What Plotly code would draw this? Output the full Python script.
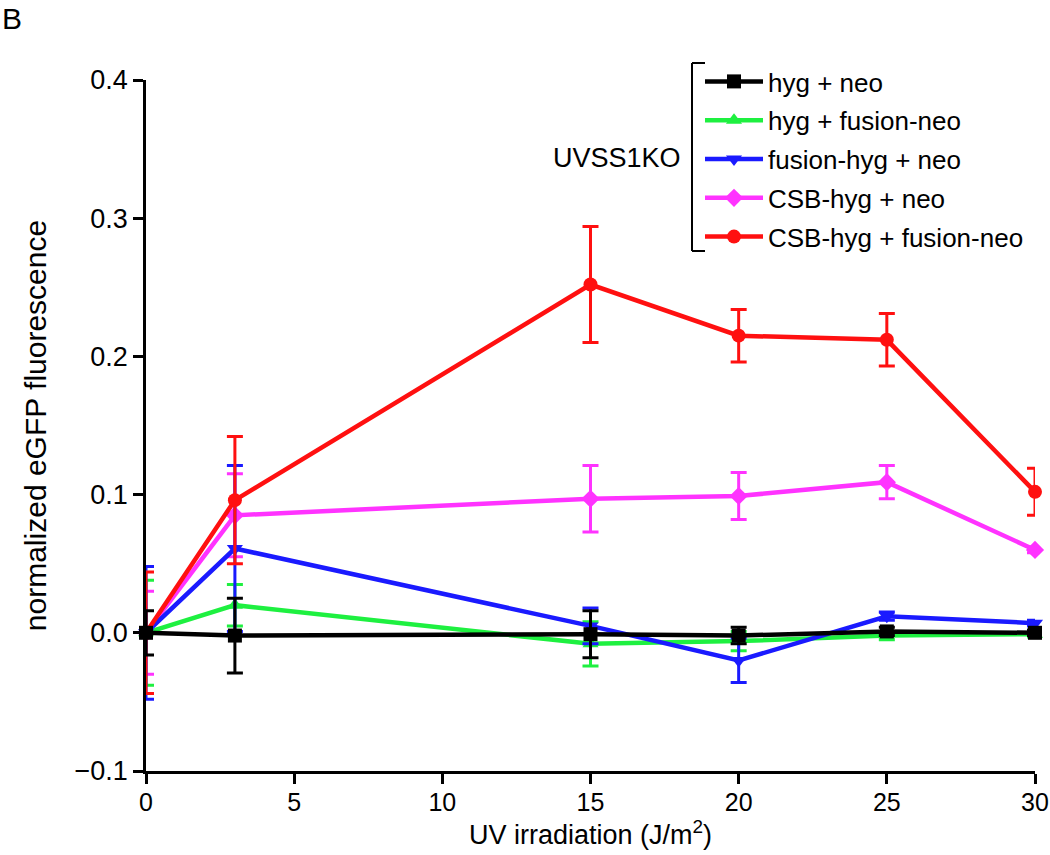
import plotly.graph_objects as go

# Data
uv_dose = [0, 3, 15, 20, 25, 30]

series_names = ["hyg + neo", "hyg + fusion-neo", "fusion-hyg + neo",
                "CSB-hyg + neo", "CSB-hyg + fusion-neo"]

hyg_neo = [0.0, -0.002, -0.001, -0.002, 0.001, 0.0]
hyg_neo_err = [0.016, 0.027, 0.017, 0.006, 0.003, 0.002]

hyg_fusion_neo = [0.0, 0.020, -0.008, -0.006, -0.002, -0.001]
hyg_fusion_neo_err = [0.038, 0.015, 0.016, 0.007, 0.003, 0.002]

fusion_hyg_neo = [0.0, 0.061, 0.005, -0.020, 0.012, 0.007]
fusion_hyg_neo_err = [0.048, 0.060, 0.013, 0.016, 0.003, 0.002]

csb_hyg_neo = [0.0, 0.085, 0.097, 0.099, 0.109, 0.060]
csb_hyg_neo_err = [0.030, 0.030, 0.024, 0.017, 0.012, 0.002]

csb_hyg_fusion_neo = [0.0, 0.096, 0.252, 0.215, 0.212, 0.102]
csb_hyg_fusion_neo_err = [0.044, 0.046, 0.042, 0.019, 0.019, 0.017]

y_ticks = [-0.1, 0.0, 0.1, 0.2, 0.3, 0.4]
x_ticks = [0, 5, 10, 15, 20, 25, 30]

colors = ["#000000", "#1ef040", "#1a1aff", "#ff33ff", "#ff1010"]
symbols = ["square", "triangle-up", "triangle-down", "diamond", "circle"]
values = [hyg_neo, hyg_fusion_neo, fusion_hyg_neo, csb_hyg_neo, csb_hyg_fusion_neo]
errors = [hyg_neo_err, hyg_fusion_neo_err, fusion_hyg_neo_err, csb_hyg_neo_err, csb_hyg_fusion_neo_err]

fig = go.Figure()
draw_order = [1, 3, 2, 4, 0]
for i in draw_order:
    fig.add_trace(go.Scatter(
        x=uv_dose, y=values[i], name=series_names[i], mode="lines+markers",
        line=dict(color=colors[i], width=4.5),
        marker=dict(symbol=symbols[i], size=14, color=colors[i]),
        error_y=dict(type="data", array=errors[i], visible=True,
                     color=colors[i], thickness=3, width=8),
        legendrank=i + 1, legendgroup=str(i), cliponaxis=False,
    ))

# plot area in pixels: left 146, right 1035, top 80, bottom 771
W, H = 1050, 855
L, R, T, B = 146, 1035, 80, 771

def px(xp):
    return (xp - L) / (R - L)

def py(yp):
    return (B - yp) / (B - T)

FAM = "Liberation Sans, Arial, sans-serif"
ytick_font = dict(family=FAM, size=27, color="black")
xtick_font = dict(family=FAM, size=25, color="black")
ytitle_font = dict(family=FAM, size=30, color="black")
xtitle_font = dict(family=FAM, size=27, color="black")
legend_font = dict(family=FAM, size=26, color="black")

fig.update_layout(
    width=W, height=H,
    margin=dict(l=L, r=W - R, t=T, b=H - B, autoexpand=False),
    paper_bgcolor="white", plot_bgcolor="white",
    showlegend=True,
    legend=dict(x=px(700), y=py(58), xanchor="left", yanchor="top",
                font=legend_font, bgcolor="rgba(0,0,0,0)",
                itemwidth=58, tracegroupgap=2, traceorder="grouped"),
    font=legend_font,
)

fig.update_xaxes(
    range=[0, 30], tickvals=x_ticks, ticktext=[str(v) for v in x_ticks],
    showline=True, linecolor="black", linewidth=2.5,
    ticks="outside", ticklen=10, tickwidth=2.5, tickcolor="black",
    showgrid=False, zeroline=False, tickfont=xtick_font, ticklabelstandoff=-3,
    title=dict(text="UV irradiation (J/m<sup>2</sup>)", font=xtitle_font, standoff=10),
)
fig.update_yaxes(
    range=[-0.1, 0.4], tickvals=y_ticks, tickformat=".1f",
    showline=True, linecolor="black", linewidth=2.5,
    ticks="outside", ticklen=10, tickwidth=2.5, tickcolor="black",
    showgrid=False, zeroline=False, tickfont=ytick_font,
    title=dict(text="normalized eGFP fluorescence", font=ytitle_font, standoff=20),
)

# bracket grouping the legend entries
bx = px(692)
fig.add_shape(type="line", xref="paper", yref="paper", x0=bx, x1=bx, y0=py(63), y1=py(251),
              line=dict(color="black", width=2))
fig.add_shape(type="line", xref="paper", yref="paper", x0=bx, x1=px(705), y0=py(63), y1=py(63),
              line=dict(color="black", width=2))
fig.add_shape(type="line", xref="paper", yref="paper", x0=bx, x1=px(705), y0=py(251), y1=py(251),
              line=dict(color="black", width=2))
fig.add_annotation(xref="paper", yref="paper", x=px(683), y=py(158), text="UVSS1KO",
                   showarrow=False, xanchor="right", yanchor="middle",
                   font=dict(family=FAM, size=27, color="black"))

# panel label
fig.add_annotation(xref="paper", yref="paper", x=px(0), y=py(0), text="B",
                   showarrow=False, xanchor="left", yanchor="top",
                   font=dict(family=FAM, size=30, color="black"))

fig.write_html("out.html", config={"displayModeBar": False},
               post_script="document.body.style.margin='0';")
